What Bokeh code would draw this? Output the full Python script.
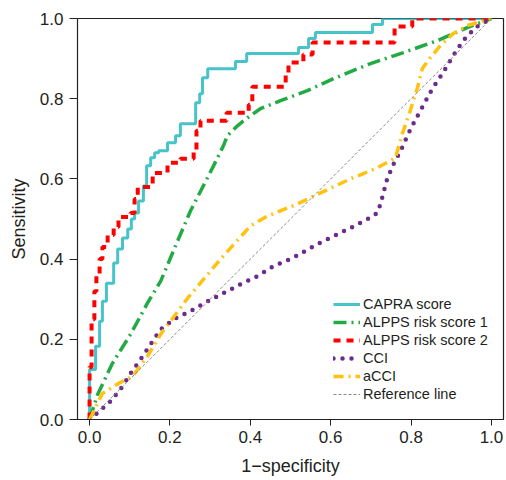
from bokeh.plotting import figure
from bokeh.models import Range1d, FixedTicker, PrintfTickFormatter, Legend, LegendItem
from bokeh.embed import file_html
from bokeh.resources import INLINE

# ---- data ----
ticks = [0.0, 0.2, 0.4, 0.6, 0.8, 1.0]

# CAPRA score: empirical ROC steps (fpr where sensitivity rises, new sensitivity)
capra_x = [0, 0.015, 0.025, 0.032, 0.042, 0.060, 0.070, 0.082, 0.095, 0.104,
           0.112, 0.122, 0.134, 0.142, 0.152, 0.162, 0.172, 0.194, 0.214, 0.226,
           0.264, 0.274, 0.281, 0.294, 0.363, 0.391, 0.520, 0.545, 0.562, 0.704, 0.729]
capra_y = [0.125, 0.1825, 0.245, 0.295, 0.34, 0.39, 0.425, 0.4525, 0.475, 0.5,
           0.515, 0.545, 0.5825, 0.6325, 0.6525, 0.665, 0.67, 0.69, 0.7075, 0.7375,
           0.79, 0.8125, 0.8525, 0.875, 0.8925, 0.9125, 0.9275, 0.95, 0.965, 0.985, 1.0]

# ALPPS risk score 2: empirical ROC steps
alpps2_x = [0, 0.005, 0.012, 0.017, 0.025, 0.032, 0.045, 0.06, 0.072, 0.102,
            0.112, 0.12, 0.157, 0.194, 0.226, 0.259, 0.266, 0.276, 0.341, 0.396,
            0.405, 0.488, 0.495, 0.532, 0.555, 0.759, 0.803]
alpps2_y = [0.13, 0.25, 0.32, 0.36, 0.40, 0.43, 0.46, 0.48, 0.505, 0.515,
            0.55, 0.58, 0.615, 0.64, 0.65, 0.67, 0.72, 0.745, 0.765, 0.785,
            0.83, 0.86, 0.89, 0.91, 0.94, 0.98, 1.0]

# ALPPS risk score 1
alpps1_x = [0, 0.02, 0.057, 0.102, 0.144, 0.177, 0.219, 0.251, 0.306, 0.333, 0.343,
            0.368, 0.393, 0.425, 0.475, 0.542, 0.607, 0.699, 0.781, 0.866, 0.94, 1.0]
alpps1_y = [0, 0.0625, 0.14, 0.2125, 0.29, 0.345, 0.445, 0.52, 0.6275, 0.6825, 0.7075,
            0.7325, 0.7525, 0.775, 0.795, 0.82, 0.85, 0.8875, 0.915, 0.945, 0.9775, 1.0]

# CCI
cci_x = [0, 0.015, 0.052, 0.082, 0.102, 0.127, 0.152, 0.177, 0.214, 0.251, 0.294,
         0.333, 0.376, 0.418, 0.458, 0.505, 0.567, 0.649, 0.692, 0.716, 0.724, 0.739,
         0.754, 0.774, 0.799, 0.823, 0.853, 0.878, 0.905, 0.930, 0.960, 1.0]
cci_y = [0, 0.0125, 0.045, 0.0825, 0.115, 0.15, 0.1875, 0.225, 0.2525, 0.27, 0.295,
         0.315, 0.3375, 0.3575, 0.3825, 0.4025, 0.4375, 0.4775, 0.50, 0.515, 0.5375, 0.595,
         0.6325, 0.67, 0.725, 0.77, 0.825, 0.8625, 0.9075, 0.945, 0.9775, 1.0]

# aCCI
acci_x = [0, 0.01, 0.032, 0.072, 0.107, 0.144, 0.177, 0.244, 0.326, 0.40, 0.443, 0.517,
          0.575, 0.649, 0.716, 0.761, 0.779, 0.794, 0.816, 0.828, 0.848, 0.873, 0.905,
          0.940, 1.0]
acci_y = [0, 0.02, 0.065, 0.09, 0.1075, 0.1575, 0.2125, 0.3025, 0.40, 0.4825, 0.5075,
          0.5375, 0.565, 0.60, 0.6275, 0.6525, 0.715, 0.7575, 0.8275, 0.875, 0.9025,
          0.9325, 0.9625, 0.9825, 1.0]

ref_x = [0, 1]
ref_y = [0, 1]


def staircase(xs, ys):
    px, py = [0.0], [0.0]
    prev = 0.0
    for x, y in zip(xs, ys):
        px += [x, x]
        py += [prev, y]
        prev = y
    px.append(1.0)
    py.append(prev)
    return px, py


capra_px, capra_py = staircase(capra_x, capra_y)
alpps2_px, alpps2_py = staircase(alpps2_x, alpps2_y)

FONT = "Liberation Sans"
TXT = "#231f20"

p = figure(frame_width=426, frame_height=401,
           x_range=Range1d(-0.03, 1.03), y_range=Range1d(0, 1),
           output_backend="svg", toolbar_location=None,
           min_border_left=77, min_border_right=3, min_border_top=18, min_border_bottom=60,
           background_fill_color="white", border_fill_color="white")

p.xgrid.visible = False
p.ygrid.visible = False
p.outline_line_color = "#222222"
p.outline_line_width = 1.2

for ax in (p.xaxis[0], p.yaxis[0]):
    ax.ticker = FixedTicker(ticks=ticks)
    ax.formatter = PrintfTickFormatter(format="%.1f")
    ax.minor_tick_line_color = None
    ax.major_tick_in = 0
    ax.axis_line_color = "#222222"
    ax.major_tick_line_color = "#222222"
    ax.major_label_text_font = FONT
    ax.major_label_text_font_size = "17px"
    ax.major_label_text_color = TXT
    ax.axis_label_text_font = FONT
    ax.axis_label_text_font_size = "18px"
    ax.axis_label_text_font_style = "normal"
    ax.axis_label_text_color = TXT

p.xaxis.axis_label = "1\u2212specificity"
p.yaxis.axis_label = "Sensitivity"
p.xaxis.major_tick_out = 6
p.yaxis.major_tick_out = 8
p.xaxis.major_label_standoff = 5
p.yaxis.major_label_standoff = 6
p.xaxis.axis_label_standoff = 10
p.yaxis.axis_label_standoff = 8

r_capra = p.line(capra_px, capra_py, line_color="#47C4C9", line_width=3)
r_a1 = p.line(alpps1_x, alpps1_y, line_color="#22AA44", line_width=3.5, line_dash="13 5 2 5")
r_a2 = p.line(alpps2_px, alpps2_py, line_color="#FF0000", line_width=4, line_dash="7 6")
r_cci = p.line(cci_x, cci_y, line_color="#6B2D8B", line_width=4.5, line_dash="0 9", line_cap="round")
r_acci = p.line(acci_x, acci_y, line_color="#FFC20E", line_width=3.5, line_dash="10 5 2 5")
r_ref = p.line(ref_x, ref_y, line_color="#888888", line_width=1, line_dash="3 2")

legend = Legend(items=[
    LegendItem(label="CAPRA score", renderers=[r_capra]),
    LegendItem(label="ALPPS risk score 1", renderers=[r_a1]),
    LegendItem(label="ALPPS risk score 2", renderers=[r_a2]),
    LegendItem(label="CCI", renderers=[r_cci]),
    LegendItem(label="aCCI", renderers=[r_acci]),
    LegendItem(label="Reference line", renderers=[r_ref]),
], location=(256, 16))
legend.padding = 0
legend.margin = 0
legend.spacing = 0
legend.glyph_width = 27
legend.glyph_height = 18
legend.label_height = 18
legend.label_standoff = 3
legend.label_text_font = FONT
legend.label_text_font_size = "14.5px"
legend.label_text_color = TXT
legend.border_line_alpha = 0
legend.background_fill_alpha = 0
p.add_layout(legend)

open("out.html", "w").write(file_html(p, INLINE))
